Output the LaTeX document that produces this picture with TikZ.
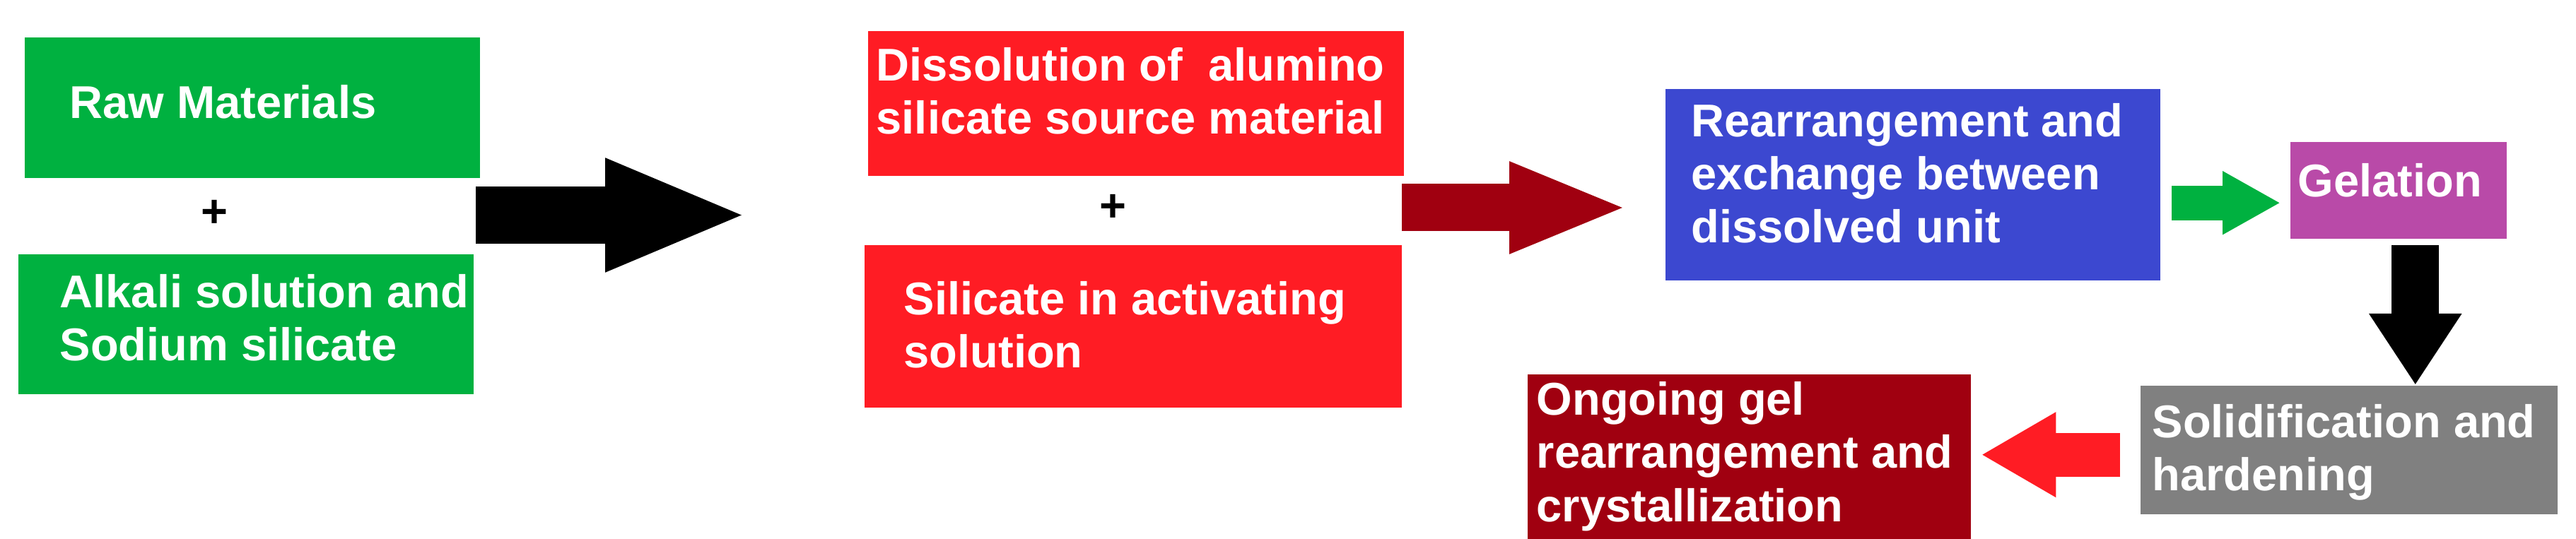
\documentclass[tikz,border=0pt]{standalone}
\usepackage{fontspec}
\setmainfont{Liberation Sans}
\usetikzlibrary{arrows.meta}

\definecolor{stagegreen}{RGB}{0,177,64}
\definecolor{stagered}{RGB}{255,28,36}
\definecolor{stagedark}{RGB}{160,0,16}
\definecolor{stageblue}{RGB}{60,72,208}
\definecolor{stagepurple}{RGB}{185,74,168}
\definecolor{stagegrey}{RGB}{128,128,128}

\begin{document}
\begin{tikzpicture}[
        box/.style n args={3}{fill=#1, minimum width=#2cm, minimum height=#3cm, inner sep=0, anchor=north west},
        txt/.style={text=white, font=\bfseries\fontsize{18.5}{21.34}\selectfont, align=left, inner sep=0, anchor=base west},
        plus/.style={font=\bfseries\fontsize{18.5}{21.34}\selectfont, inner sep=0},
        fat/.style n args={4}{draw=#1, line width=#2, -{Triangle[length=#3, width=#4]}}
]
        \useasboundingbox (0,0) rectangle (36.44,-7.63);

        \node[box={stagegreen}{6.44}{1.99}] (raw) at (0.34,-0.52) {};
        \node[box={stagegreen}{6.44}{1.98}] (alkali) at (0.25,-3.59) {};
        \node[plus] (plusa) at (3.03,-3.02) {+};
        \node[txt] (rawtxt) at ([shift={(0.64,-1.16)}]raw.north west) {Raw Materials};
        \node[txt] (alkalitxt) at ([shift={(0.59,-1.52)}]alkali.north west) {Alkali solution and\\Sodium silicate};

        \node[box={stagered}{7.58}{2.05}] (diss) at (12.27,-0.43) {};
        \node[box={stagered}{7.60}{2.30}] (silic) at (12.22,-3.46) {};
        \node[plus] (plusb) at (15.74,-2.94) {+};
        \node[txt] (disstxt) at ([shift={(0.12,-1.47)}]diss.north west) {Dissolution of \ alumino\\silicate source material};
        \node[txt] (silictxt) at ([shift={(0.56,-1.75)}]silic.north west) {Silicate in activating\\solution};

        \node[box={stageblue}{7.00}{2.71}] (rearr) at (23.55,-1.25) {};
        \node[txt] (rearrtxt) at ([shift={(0.37,-2.19)}]rearr.north west) {Rearrangement and\\exchange between\\dissolved unit};

        \node[box={stagepurple}{3.06}{1.37}] (gel) at (32.39,-2.00) {};
        \node[txt] (geltxt) at ([shift={(0.11,-0.79)}]gel.north west) {Gelation};

        \node[box={stagegrey}{5.90}{1.82}] (solid) at (30.27,-5.45) {};
        \node[txt] (solidtxt) at ([shift={(0.17,-1.49)}]solid.north west) {Solidification and\\hardening};

        \node[box={stagedark}{6.27}{2.34}] (ongo) at (21.60,-5.29) {};
        \node[txt] (ongotxt) at ([shift={(0.13,-2.09)}]ongo.north west) {Ongoing gel\\rearrangement and\\crystallization};

        \coordinate (g3) at ([yshift=-1.8mm]gel.west);
        \coordinate (d4) at ([xshift=2.4mm]gel.south);
        \coordinate (l5) at ([yshift=-0.7mm]solid.west);

        \draw[fat={black}{8.1mm}{20.3mm}{14.5mm}, shorten <=0.3mm, shorten >=16.8mm] ([yshift=-0.25mm]alkali.east |- plusa) -- ([yshift=-0.25mm]diss.west |- plusa);
        \draw[fat={stagedark}{6.7mm}{16.9mm}{11.7mm}, shorten >=5.1mm] (silic.east |- plusb) -- (rearr.west |- plusb);
        \draw[fat={stagegreen}{4.9mm}{8.2mm}{8.4mm}, shorten <=1.6mm, shorten >=1.3mm] (rearr.east |- g3) -- (g3);
        \draw[fat={black}{6.7mm}{10.1mm}{12.4mm}, shorten <=0.9mm] (d4) -- (d4 |- solid.north);
        \draw[fat={stagered}{6.2mm}{10.6mm}{11.3mm}, shorten <=2.8mm, shorten >=1.4mm] (l5) -- (ongo.east |- l5);

\end{tikzpicture}
\end{document}
